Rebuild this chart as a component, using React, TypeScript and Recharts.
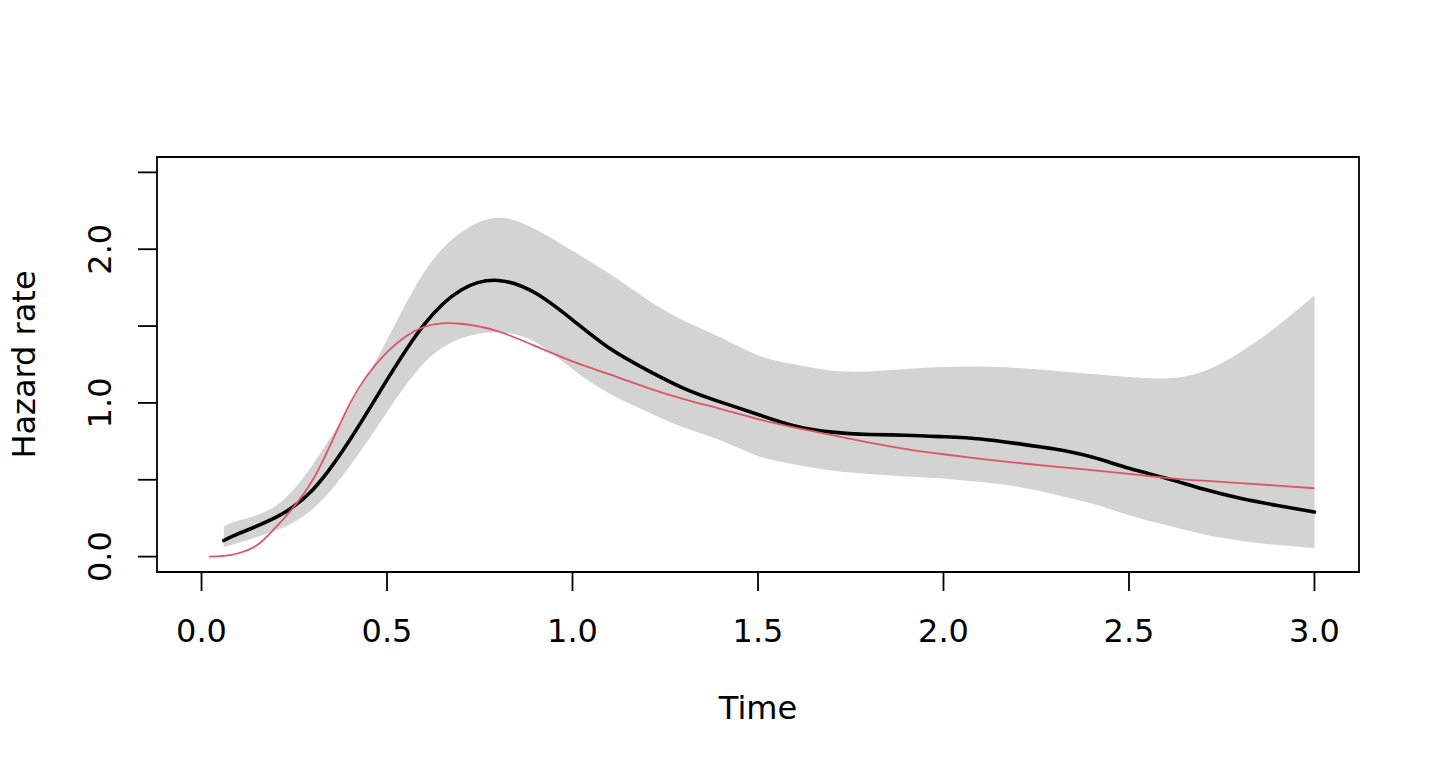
import React from "react";
import {
  ComposedChart,
  Area,
  Line,
  XAxis,
  YAxis,
  ReferenceArea,
  Label,
} from "recharts";

// estimated hazard with pointwise band
const TIMES = [
  0.06, 0.1, 0.2, 0.3, 0.4, 0.5, 0.6, 0.7, 0.8, 0.9, 1.0, 1.1, 1.2, 1.3, 1.4,
  1.5, 1.6, 1.7, 1.8, 1.9, 2.0, 2.1, 2.2, 2.3, 2.4, 2.5, 2.6, 2.7, 2.8, 2.9,
  3.0,
];
const ESTIMATE = [
  0.105, 0.15, 0.255, 0.435, 0.76, 1.15, 1.51, 1.735, 1.797, 1.715, 1.54,
  1.355, 1.215, 1.095, 1.005, 0.925, 0.85, 0.81, 0.795, 0.79, 0.78, 0.765,
  0.735, 0.7, 0.648, 0.575, 0.51, 0.44, 0.38, 0.333, 0.29,
];
const LOWER = [
  0.061, 0.09, 0.17, 0.31, 0.59, 0.94, 1.26, 1.42, 1.46, 1.395, 1.22, 1.06,
  0.945, 0.84, 0.755, 0.655, 0.6, 0.56, 0.537, 0.522, 0.508, 0.485, 0.455,
  0.405, 0.345, 0.27, 0.205, 0.145, 0.103, 0.075, 0.055,
];
const UPPER = [
  0.195, 0.235, 0.33, 0.6, 0.98, 1.41, 1.85, 2.11, 2.205, 2.13, 1.99, 1.84,
  1.675, 1.535, 1.425, 1.31, 1.25, 1.21, 1.205, 1.22, 1.233, 1.237, 1.228,
  1.21, 1.188, 1.168, 1.16, 1.205, 1.33, 1.5, 1.7,
];

// true hazard
const TRUE_TIMES = [
  0.02, 0.06, 0.1, 0.15, 0.2, 0.3, 0.4, 0.5, 0.6, 0.7, 0.8, 0.9, 1.0, 1.1,
  1.2, 1.3, 1.4, 1.5, 1.6, 1.7, 1.8, 1.9, 2.0, 2.1, 2.2, 2.3, 2.4, 2.5, 2.6,
  2.7, 2.8, 2.9, 3.0,
];
const TRUE_HAZARD = [
  0.0, 0.005, 0.022, 0.075, 0.19, 0.5, 0.995, 1.33, 1.495, 1.515, 1.465, 1.37,
  1.27, 1.186, 1.1, 1.025, 0.96, 0.895, 0.84, 0.79, 0.742, 0.7, 0.666, 0.636,
  0.61, 0.585, 0.563, 0.538, 0.513, 0.494, 0.478, 0.462, 0.445,
];

const X_TICKS = [0, 0.5, 1, 1.5, 2, 2.5, 3];
const Y_TICKS = [0, 0.5, 1, 1.5, 2, 2.5];
const Y_LABELED = [0, 1, 2];

const FONT = "DejaVu Sans, Verdana, sans-serif";
const FONT_SIZE = 32;

const bandData = TIMES.map((t, i) => ({
  time: t,
  band: [LOWER[i], UPPER[i]],
  estimate: ESTIMATE[i],
}));

const trueData = TRUE_TIMES.map((t, i) => ({ time: t, hazard: TRUE_HAZARD[i] }));

const XTick = ({ x, y, payload }: any) => (
  <text
    x={x}
    y={y + 51}
    textAnchor="middle"
    fontFamily={FONT}
    fontSize={FONT_SIZE}
    fill="#000"
  >
    {payload.value.toFixed(1)}
  </text>
);

const YTick = ({ x, y, payload }: any) => {
  if (!Y_LABELED.includes(payload.value)) return <g />;
  const bx = x - 27;
  return (
    <text
      x={bx}
      y={y}
      transform={`rotate(-90, ${bx}, ${y})`}
      textAnchor="middle"
      fontFamily={FONT}
      fontSize={FONT_SIZE}
      fill="#000"
    >
      {payload.value.toFixed(1)}
    </text>
  );
};

const XTitle = ({ viewBox }: any) => (
  <text
    x={viewBox.x + viewBox.width / 2}
    y={viewBox.y + 147}
    textAnchor="middle"
    fontFamily={FONT}
    fontSize={FONT_SIZE}
    fill="#000"
  >
    Time
  </text>
);

const YTitle = ({ viewBox }: any) => {
  const cx = 35;
  const cy = viewBox.y + viewBox.height / 2;
  return (
    <text
      x={cx}
      y={cy}
      transform={`rotate(-90, ${cx}, ${cy})`}
      textAnchor="middle"
      fontFamily={FONT}
      fontSize={FONT_SIZE}
      fill="#000"
    >
      Hazard rate
    </text>
  );
};

const App = () => {
  return (
    <div style={{ position: "absolute", left: 0, top: 0, background: "#fff" }}>
      <ComposedChart
        width={1440}
        height={768}
        margin={{ top: 157, right: 81, bottom: 0, left: 0 }}
      >
        <XAxis
          type="number"
          dataKey="time"
          domain={[-0.12, 3.12]}
          ticks={X_TICKS}
          allowDataOverflow
          height={196}
          tickSize={19}
          tickMargin={0}
          axisLine={false}
          tickLine={{ stroke: "#000", strokeWidth: 1.8 }}
          tick={<XTick />}
          interval={0}
        >
          <Label content={<XTitle />} />
        </XAxis>
        <YAxis
          type="number"
          domain={[-0.1, 2.6]}
          ticks={Y_TICKS}
          allowDataOverflow
          width={157}
          tickSize={19}
          tickMargin={0}
          axisLine={false}
          tickLine={{ stroke: "#000", strokeWidth: 1.8 }}
          tick={<YTick />}
          interval={0}
        >
          <Label content={<YTitle />} />
        </YAxis>
        <Area
          data={bandData}
          dataKey="band"
          type="natural"
          fill="#D3D3D3"
          fillOpacity={1}
          stroke="none"
          isAnimationActive={false}
          dot={false}
          activeDot={false}
        />
        <Line
          data={bandData}
          dataKey="estimate"
          type="natural"
          stroke="#000"
          strokeWidth={3.6}
          strokeLinecap="round"
          dot={false}
          activeDot={false}
          isAnimationActive={false}
        />
        <Line
          data={trueData}
          dataKey="hazard"
          type="natural"
          stroke="#DF536B"
          strokeWidth={1.8}
          dot={false}
          activeDot={false}
          isAnimationActive={false}
        />
        <ReferenceArea
          x1={-0.12}
          x2={3.12}
          y1={-0.1}
          y2={2.6}
          fill="none"
          stroke="#000"
          strokeWidth={1.8}
          ifOverflow="visible"
        />
      </ComposedChart>
    </div>
  );
};

export default App;
